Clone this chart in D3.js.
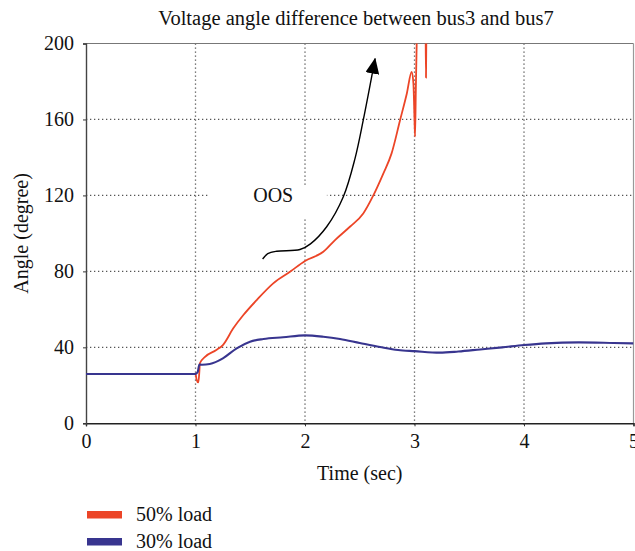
<!DOCTYPE html>
<html>
<head>
<meta charset="utf-8">
<script src="https://cdn.jsdelivr.net/npm/d3@7"></script>
<style>
  html, body { margin: 0; padding: 0; background: #fff; }
  svg { display: block; }
  text { font-family: "Liberation Serif", "DejaVu Serif", serif; fill: #111; }
</style>
</head>
<body>
<svg id="chart" width="635" height="551"></svg>
<script>
// Time axis (s) and sampled angle values (degrees) for each loading case
const load50Time  = [0, 1.0, 1.01, 1.026, 1.035, 1.04, 1.087, 1.19, 1.25, 1.345, 1.437, 1.559, 1.71, 1.863, 2.0, 2.167, 2.274, 2.41, 2.532, 2.624, 2.715, 2.79, 2.868, 2.93, 2.974, 2.99, 3.0, 3.005, 3.012, 3.02, 3.03, 3.10, 3.105, 3.11, 3.2];
const load50Angle = [26, 26, 23, 21.5, 27, 31.6, 35, 38.6, 41.2, 50, 57, 64.9, 73.7, 79.8, 85.5, 90.3, 96.5, 103.5, 110.5, 120, 131.5, 142, 159.6, 173.7, 185, 179, 160, 151, 175, 200, 215, 215, 182, 215, 230];

const load30Time  = [0, 1.0, 1.02, 1.035, 1.06, 1.13, 1.25, 1.376, 1.498, 1.62, 1.80, 2.0, 2.167, 2.32, 2.5, 2.685, 2.85, 3.0, 3.23, 3.4, 3.6, 3.8, 4.0, 4.2, 4.5, 4.82, 5.0];
const load30Angle = [26, 26, 27, 31, 30.8, 31.2, 34.2, 39.5, 43, 44.4, 45.3, 46.3, 45.6, 44.4, 42.3, 40.2, 38.6, 38, 37.2, 37.8, 38.9, 40, 41.2, 42.1, 42.6, 42.3, 42.1];

// "OOS" annotation arrow path (time, angle)
const arrowTime  = [1.613, 1.66, 1.742, 1.954, 2.05, 2.198, 2.35, 2.457, 2.532, 2.64];
const arrowAngle = [86.5, 89.3, 90.6, 91.5, 94.5, 103.5, 119.3, 139.5, 159.6, 192];

const xTicks = [0, 1, 2, 3, 4, 5];
const yTicks = [0, 40, 80, 120, 160, 200];
const seriesNames  = ["50% load", "30% load"];
const seriesColors = ["#ec4527", "#38358f"];

const svg = d3.select("#chart");
const plot = { left: 86, right: 633.5, top: 43.5, bottom: 423.3 };

const x = d3.scaleLinear().domain([0, 5]).range([plot.left, plot.right]);
const y = d3.scaleLinear().domain([0, 200]).range([plot.bottom, plot.top]);

svg.append("defs").append("clipPath").attr("id", "plotClip")
  .append("rect")
  .attr("x", plot.left).attr("y", plot.top)
  .attr("width", plot.right - plot.left).attr("height", plot.bottom - plot.top);

// Dotted grid
const grid = svg.append("g").attr("stroke", "#555").attr("stroke-width", 1.3)
  .attr("stroke-dasharray", "1.3,2.7");
grid.selectAll(".gx").data(xTicks.slice(1, -1)).join("line")
  .attr("x1", d => x(d)).attr("x2", d => x(d))
  .attr("y1", plot.top).attr("y2", plot.bottom + 4);
grid.selectAll(".gy").data(yTicks.slice(1, -1)).join("line")
  .attr("x1", plot.left).attr("x2", plot.right)
  .attr("y1", d => y(d)).attr("y2", d => y(d));

// Frame: top and right borders
svg.append("line").attr("x1", plot.left).attr("x2", plot.right)
  .attr("y1", plot.top).attr("y2", plot.top).attr("stroke", "#777").attr("stroke-width", 1.2);
svg.append("line").attr("x1", plot.right).attr("x2", plot.right)
  .attr("y1", plot.top).attr("y2", plot.bottom).attr("stroke", "#999").attr("stroke-width", 1.2);

// White box behind the OOS label
svg.append("rect").attr("x", x(1.13)).attr("y", y(125.5))
  .attr("width", x(2.2) - x(1.13)).attr("height", y(108.5) - y(125.5))
  .attr("fill", "#fff");

// Axes
const xAxis = d3.axisBottom(x).tickValues(xTicks).tickSize(3).tickPadding(8).tickFormat(d3.format("d"));
const yAxis = d3.axisLeft(y).tickValues(yTicks).tickSize(3).tickPadding(9).tickFormat(d3.format("d"));

const gx = svg.append("g").attr("transform", `translate(0,${plot.bottom})`).call(xAxis);
gx.select(".domain").attr("stroke", "#222").attr("stroke-width", 1.4);
gx.selectAll(".tick line").attr("stroke", "#333");
gx.selectAll(".tick text").attr("font-size", 20).attr("font-family", "Liberation Serif").attr("fill", "#111");

const gy = svg.append("g").attr("transform", `translate(${plot.left},0)`).call(yAxis);
gy.select(".domain").attr("stroke", "#444").attr("stroke-width", 1.4);
gy.selectAll(".tick line").attr("stroke", "#333");
gy.selectAll(".tick text").attr("font-size", 20).attr("font-family", "Liberation Serif").attr("fill", "#111");

// Series lines
const line = d3.line().curve(d3.curveMonotoneX).x(d => x(d[0])).y(d => y(d[1]));
const series = [
  { name: seriesNames[0], color: seriesColors[0], width: 1.8, pts: d3.zip(load50Time, load50Angle) },
  { name: seriesNames[1], color: seriesColors[1], width: 2.1, pts: d3.zip(load30Time, load30Angle) }
];
svg.append("g").attr("clip-path", "url(#plotClip)")
  .selectAll("path").data(series).join("path")
  .attr("d", d => line(d.pts))
  .attr("fill", "none")
  .attr("stroke", d => d.color)
  .attr("stroke-width", d => d.width)
  .attr("stroke-linejoin", "round");

// OOS arrow
svg.select("defs").append("marker")
  .attr("id", "arrowHead").attr("viewBox", "0 0 16 14")
  .attr("refX", 15).attr("refY", 7)
  .attr("markerWidth", 16).attr("markerHeight", 14)
  .attr("markerUnits", "userSpaceOnUse")
  .attr("orient", "auto")
  .append("path").attr("d", "M0,0 L16,7 L0,14 Z").attr("fill", "#000");

svg.append("path")
  .attr("d", d3.line().curve(d3.curveCatmullRom)
    .x(d => x(d[0])).y(d => y(d[1]))(d3.zip(arrowTime, arrowAngle)))
  .attr("fill", "none").attr("stroke", "#000").attr("stroke-width", 1.4)
  .attr("marker-end", "url(#arrowHead)");

svg.append("text").attr("x", x(1.71)).attr("y", y(116.6))
  .attr("text-anchor", "middle").attr("font-size", 20).text("OOS");

// Titles
svg.append("text").attr("x", 356).attr("y", 25)
  .attr("text-anchor", "middle").attr("font-size", 20.5)
  .text("Voltage angle difference between bus3 and bus7");
svg.append("text").attr("x", (plot.left + plot.right) / 2).attr("y", 480)
  .attr("text-anchor", "middle").attr("font-size", 20).text("Time (sec)");
svg.append("text")
  .attr("transform", `translate(28,${(plot.top + plot.bottom) / 2}) rotate(-90)`)
  .attr("text-anchor", "middle").attr("font-size", 20).text("Angle (degree)");

// Legend
const legend = svg.append("g").selectAll("g").data(series).join("g")
  .attr("transform", (d, i) => `translate(87,${511 + i * 27})`);
legend.append("rect").attr("width", 35).attr("height", 7.5).attr("fill", d => d.color);
legend.append("text").attr("x", 49).attr("y", 9.5).attr("font-size", 20).text(d => d.name);
</script>
</body>
</html>
